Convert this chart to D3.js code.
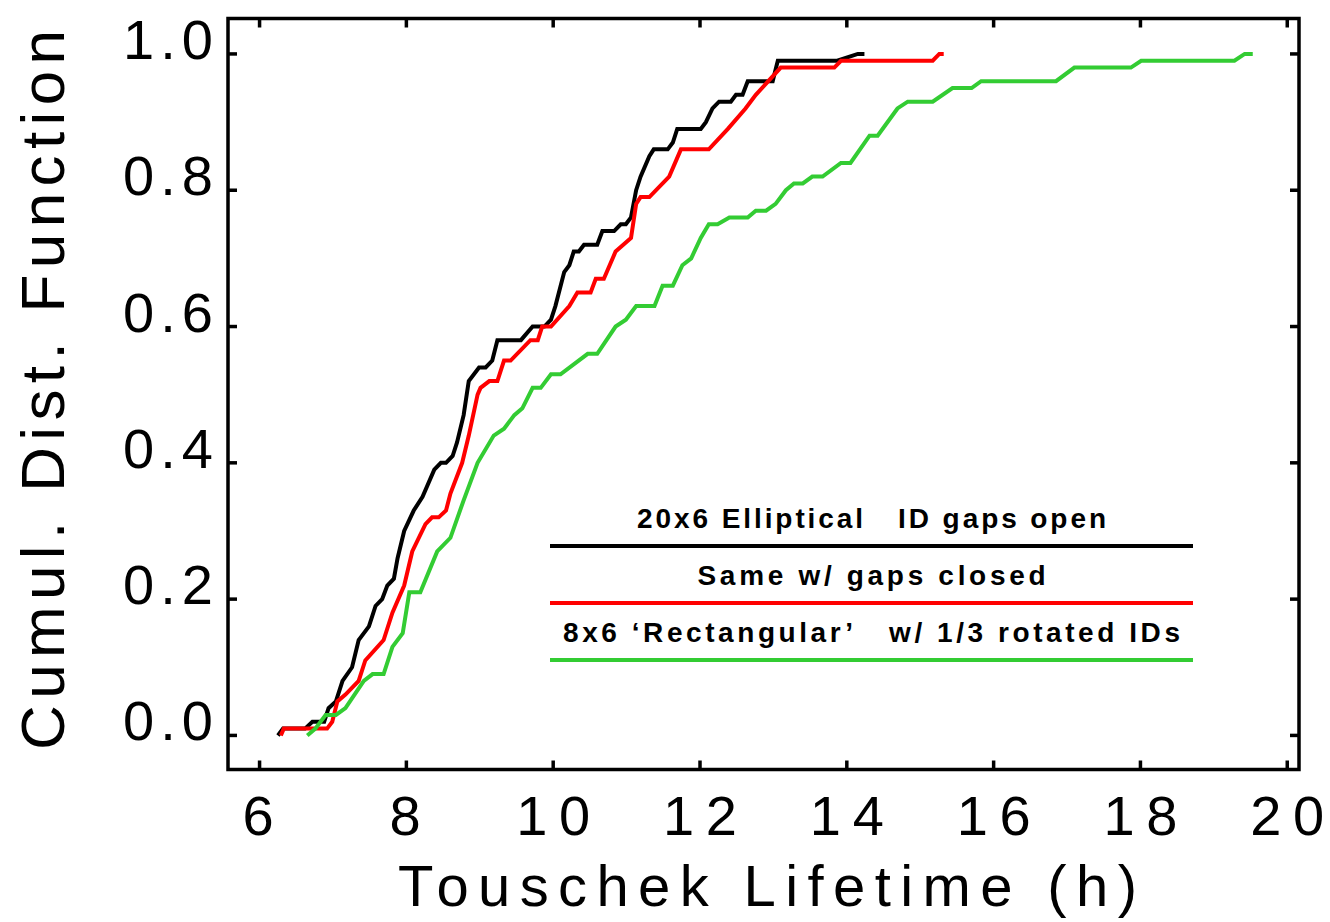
<!DOCTYPE html>
<html>
<head>
<meta charset="utf-8">
<script src="https://cdn.jsdelivr.net/npm/d3@7"></script>
<style>
  body { margin: 0; background: #fff; }
  svg text { font-family: "Liberation Sans", Arial, sans-serif; fill: #000; }
</style>
</head>
<body>
<div id="chart"></div>
<script>
// CDF curves: lifetime (h) and cumulative fraction
var openX = [6.25, 6.32, 6.62, 6.72, 6.88, 6.94, 7.04, 7.13, 7.26, 7.35, 7.49, 7.58, 7.67, 7.74, 7.83, 7.88, 7.97, 8.10, 8.22, 8.38, 8.47, 8.54, 8.63, 8.69, 8.78, 8.85, 8.99, 9.08, 9.17, 9.24, 9.56, 9.72, 9.88, 9.97, 10.03, 10.15, 10.22, 10.28, 10.35, 10.42, 10.60, 10.67, 10.83, 10.92, 10.99, 11.06, 11.13, 11.19, 11.31, 11.37, 11.56, 11.63, 11.69, 12.01, 12.08, 12.17, 12.26, 12.42, 12.49, 12.58, 12.65, 12.99, 13.06, 13.87, 14.15, 14.24];
var openY = [0.00, 0.01, 0.01, 0.02, 0.02, 0.04, 0.05, 0.08, 0.10, 0.14, 0.16, 0.19, 0.20, 0.22, 0.23, 0.26, 0.30, 0.33, 0.35, 0.39, 0.40, 0.40, 0.41, 0.43, 0.47, 0.52, 0.54, 0.54, 0.55, 0.58, 0.58, 0.60, 0.60, 0.61, 0.63, 0.68, 0.69, 0.71, 0.71, 0.72, 0.72, 0.74, 0.74, 0.75, 0.75, 0.76, 0.80, 0.82, 0.85, 0.86, 0.86, 0.87, 0.89, 0.89, 0.90, 0.92, 0.93, 0.93, 0.94, 0.94, 0.96, 0.96, 0.99, 0.99, 1.00, 1.00];

var closedX = [6.29, 6.33, 6.92, 6.99, 7.06, 7.17, 7.35, 7.44, 7.69, 7.81, 7.97, 8.08, 8.26, 8.35, 8.44, 8.54, 8.60, 8.76, 8.85, 8.97, 9.01, 9.13, 9.24, 9.33, 9.42, 9.69, 9.79, 9.85, 9.97, 10.22, 10.33, 10.51, 10.58, 10.69, 10.85, 11.06, 11.13, 11.19, 11.31, 11.58, 11.74, 12.12, 12.38, 12.62, 12.76, 13.10, 13.83, 13.92, 15.17, 15.26, 15.32];
var closedY = [0.00, 0.01, 0.01, 0.02, 0.05, 0.06, 0.08, 0.11, 0.14, 0.18, 0.22, 0.27, 0.31, 0.32, 0.32, 0.33, 0.355, 0.40, 0.44, 0.50, 0.51, 0.52, 0.52, 0.55, 0.55, 0.58, 0.58, 0.60, 0.60, 0.63, 0.65, 0.65, 0.67, 0.67, 0.71, 0.73, 0.78, 0.79, 0.79, 0.82, 0.86, 0.86, 0.89, 0.92, 0.94, 0.98, 0.98, 0.99, 0.99, 1.00, 1.00];

var rectX = [6.65, 6.76, 6.90, 7.04, 7.17, 7.42, 7.54, 7.69, 7.81, 7.95, 8.04, 8.19, 8.42, 8.60, 8.78, 8.97, 9.19, 9.33, 9.47, 9.58, 9.72, 9.83, 9.97, 10.10, 10.47, 10.60, 10.85, 10.99, 11.13, 11.38, 11.49, 11.63, 11.76, 11.88, 12.01, 12.12, 12.24, 12.40, 12.65, 12.76, 12.90, 13.03, 13.17, 13.28, 13.40, 13.53, 13.67, 13.92, 14.05, 14.31, 14.42, 14.69, 14.83, 15.17, 15.44, 15.70, 15.83, 16.85, 17.10, 17.87, 18.01, 19.28, 19.42, 19.53];
var rectY = [0.00, 0.01, 0.03, 0.03, 0.04, 0.08, 0.09, 0.09, 0.13, 0.15, 0.21, 0.21, 0.27, 0.29, 0.345, 0.40, 0.44, 0.45, 0.47, 0.48, 0.51, 0.51, 0.53, 0.53, 0.56, 0.56, 0.60, 0.61, 0.63, 0.63, 0.66, 0.66, 0.69, 0.70, 0.73, 0.75, 0.75, 0.76, 0.76, 0.77, 0.77, 0.78, 0.80, 0.81, 0.81, 0.82, 0.82, 0.84, 0.84, 0.88, 0.88, 0.92, 0.93, 0.93, 0.95, 0.95, 0.96, 0.96, 0.98, 0.98, 0.99, 0.99, 1.00, 1.00];

var seriesNames = ["20x6 Elliptical   ID gaps open", "Same w/ gaps closed", "8x6 \u2018Rectangular\u2019   w/ 1/3 rotated IDs"];
var seriesColors = ["#000000", "#ff0000", "#33cc33"];
var xTicks = [6, 8, 10, 12, 14, 16, 18, 20];
var yTicks = [0.0, 0.2, 0.4, 0.6, 0.8, 1.0];

var W = 1330, H = 922;
var svg = d3.select("#chart")
  .append("svg")
    .attr("width", W)
    .attr("height", H);

var x = d3.scaleLinear()
  .domain([5.57, 20.16])
  .range([228, 1299]);
var y = d3.scaleLinear()
  .domain([-0.05, 1.052])
  .range([769.5, 18.5]);

var tickLen = 9;

// frame
svg.append("rect")
  .attr("x", x.range()[0])
  .attr("y", y.range()[1])
  .attr("width", x.range()[1] - x.range()[0])
  .attr("height", y.range()[0] - y.range()[1])
  .attr("fill", "none")
  .attr("stroke", "#000")
  .attr("stroke-width", 3.5);

// inward ticks on all four sides
var tg = svg.append("g").attr("stroke", "#000").attr("stroke-width", 3.5);
xTicks.forEach(function(t) {
  tg.append("line").attr("x1", x(t)).attr("x2", x(t))
    .attr("y1", y.range()[0]).attr("y2", y.range()[0] - tickLen);
  tg.append("line").attr("x1", x(t)).attr("x2", x(t))
    .attr("y1", y.range()[1]).attr("y2", y.range()[1] + tickLen);
});
yTicks.forEach(function(t) {
  tg.append("line").attr("y1", y(t)).attr("y2", y(t))
    .attr("x1", x.range()[0]).attr("x2", x.range()[0] + tickLen);
  tg.append("line").attr("y1", y(t)).attr("y2", y(t))
    .attr("x1", x.range()[1]).attr("x2", x.range()[1] - tickLen);
});

// tick labels
svg.append("g").selectAll("text")
  .data(xTicks)
  .join("text")
    .attr("x", d => x(d) - (d >= 10 ? 37 : 17))
    .attr("y", 835)
    .attr("textLength", d => d >= 10 ? 74 : 34)
    .attr("lengthAdjust", "spacing")
    .style("font-size", "56px")
    .text(d => d);

svg.append("g").selectAll("text")
  .data(yTicks)
  .join("text")
    .attr("x", 213)
    .attr("y", d => y(d) + 5)
    .attr("text-anchor", "end")
    .attr("textLength", 90)
    .attr("lengthAdjust", "spacing")
    .style("font-size", "56px")
    .text(d => d3.format(".1f")(d));

// axis titles
svg.append("text")
  .attr("x", 398)
  .attr("y", 906)
  .attr("textLength", 739)
  .attr("lengthAdjust", "spacing")
  .style("font-size", "58px")
  .text("Touschek Lifetime (h)");

svg.append("text")
  .attr("transform", "translate(64,750) rotate(-90)")
  .attr("textLength", 720)
  .attr("lengthAdjust", "spacing")
  .style("font-size", "62px")
  .text("Cumul. Dist. Function");

// curves
var line = d3.line()
  .x(d => x(d[0]))
  .y(d => y(d[1]));

[[openX, openY], [closedX, closedY], [rectX, rectY]].forEach(function(s, i) {
  var pts = s[0].map((v, j) => [v, s[1][j]]);
  svg.append("path")
    .datum(pts)
    .attr("fill", "none")
    .attr("stroke", seriesColors[i])
    .attr("stroke-width", 4)
    .attr("stroke-linejoin", "miter")
    .attr("d", line);
});

// legend: text above a coloured rule
var legX0 = 550, legX1 = 1193;
var legTextW = [469, 348, 617];
seriesNames.forEach(function(name, i) {
  var ly = 546 + i * 57;
  svg.append("text")
    .attr("x", (legX0 + legX1) / 2 - legTextW[i] / 2)
    .attr("y", ly - 18)
    .attr("textLength", legTextW[i])
    .attr("lengthAdjust", "spacing")
    .attr("xml:space", "preserve")
    .style("white-space", "pre")
    .style("font-size", "28px")
    .style("font-weight", "bold")
    .text(name);
  svg.append("line")
    .attr("x1", legX0).attr("x2", legX1)
    .attr("y1", ly).attr("y2", ly)
    .attr("stroke", seriesColors[i])
    .attr("stroke-width", 4);
});
</script>
</body>
</html>
